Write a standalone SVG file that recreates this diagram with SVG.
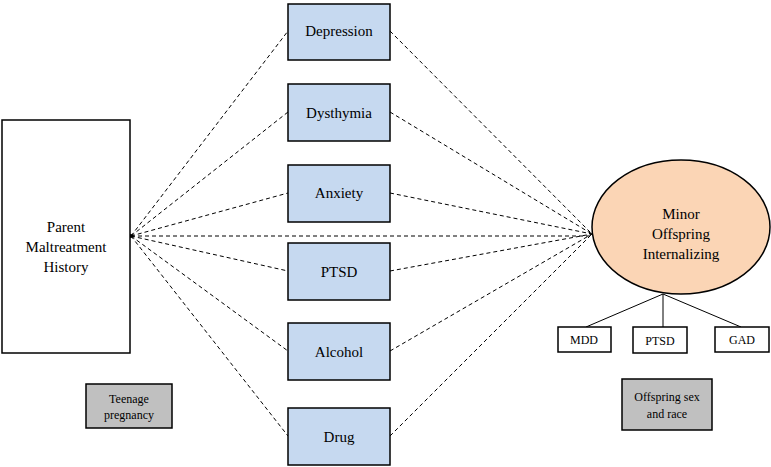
<svg xmlns="http://www.w3.org/2000/svg" width="771" height="467" viewBox="0 0 771 467" font-family="'Liberation Serif', 'Times New Roman', 'DejaVu Serif', serif">
<style>
text{font-family:'Liberation Serif','Times New Roman','DejaVu Serif',serif;fill:#000;text-anchor:middle}
.m{fill:#c6d9f0;stroke:#000;stroke-width:1.5}
.d{stroke:#000;stroke-width:1;stroke-dasharray:4,3;fill:none}
.s{stroke:#000;stroke-width:1;fill:none}
.g{fill:#c0c0c0;stroke:#000;stroke-width:1.5}
.w{fill:#fff;stroke:#000;stroke-width:1.5}
.t{font-size:15px}
.sm{font-size:12px}
</style>
<rect width="771" height="467" fill="#fff"/>
<g id="connectors">
<path class="d" d="M131,236 L288,31 M131,236 L288,112 M131,236 L288,193 M131,236 L288,271 M131,236 L288,351 M131,236 L288,436 M131,236 L592,236"/>
<path class="d" d="M390,31 L592,234 M390,112 L592,234 M390,193 L592,234 M390,271 L592,234 M390,351 L592,234 M390,436 L592,234"/>
<path class="s" d="M663,294 L586,327 M663,294 L663,327 M663,294 L741,327"/>
<circle cx="131" cy="236" r="2" fill="#000"/>
</g>
<g id="parent"><rect class="w" x="2" y="120" width="128" height="233"/>
<text class="t" x="66" y="232">Parent</text><text class="t" x="66" y="252">Maltreatment</text><text class="t" x="66" y="272">History</text></g>
<g id="depression"><rect class="m" x="288" y="4" width="102" height="56"/><text class="t" x="339" y="36">Depression</text></g>
<g id="dysthymia"><rect class="m" x="288" y="84" width="102" height="57"/><text class="t" x="339" y="118">Dysthymia</text></g>
<g id="anxiety"><rect class="m" x="288" y="165" width="102" height="57"/><text class="t" x="339" y="198">Anxiety</text></g>
<g id="ptsd"><rect class="m" x="288" y="243" width="102" height="57"/><text class="t" x="339" y="277">PTSD</text></g>
<g id="alcohol"><rect class="m" x="288" y="323" width="102" height="57"/><text class="t" x="339" y="357">Alcohol</text></g>
<g id="drug"><rect class="m" x="288" y="408" width="102" height="57"/><text class="t" x="339" y="442">Drug</text></g>
<g id="minor"><ellipse cx="681" cy="227" rx="89" ry="67" fill="#fbd5b5" stroke="#000" stroke-width="1.5"/>
<text class="t" x="681" y="219">Minor</text><text class="t" x="681" y="239">Offspring</text><text class="t" x="681" y="259">Internalizing</text></g>
<g id="mdd"><rect class="w" x="558" y="327" width="53" height="25"/><text class="sm" x="584" y="344">MDD</text></g>
<g id="optsd"><rect class="w" x="633" y="327" width="54" height="26"/><text class="sm" x="660" y="345">PTSD</text></g>
<g id="gad"><rect class="w" x="715" y="327" width="54" height="25"/><text class="sm" x="742" y="344">GAD</text></g>
<g id="teen"><rect class="g" x="86" y="384" width="86" height="44"/><text class="sm" x="129" y="403">Teenage</text><text class="sm" x="129" y="419">pregnancy</text></g>
<g id="sexrace"><rect class="g" x="622" y="379" width="90" height="51"/><text class="sm" x="667" y="401">Offspring sex</text><text class="sm" x="667" y="418">and race</text></g>
</svg>
